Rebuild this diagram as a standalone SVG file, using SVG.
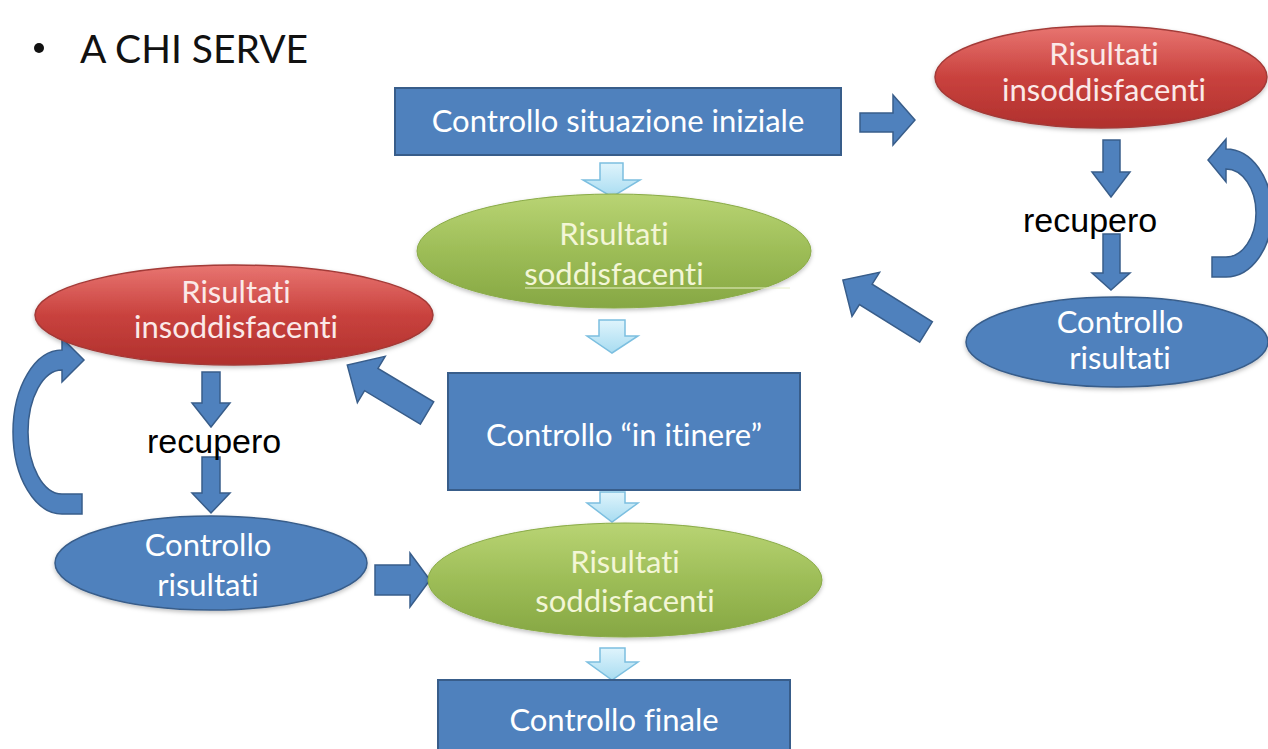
<svg xmlns="http://www.w3.org/2000/svg" width="1268" height="749" viewBox="0 0 1268 749">
<defs>
<linearGradient id="gGreen" x1="0" y1="0" x2="0" y2="1">
<stop offset="0" stop-color="#b9d474"/><stop offset="0.5" stop-color="#9dbd57"/><stop offset="1" stop-color="#86a743"/>
</linearGradient>
<linearGradient id="gRed" x1="0" y1="0" x2="0" y2="1">
<stop offset="0" stop-color="#e87571"/><stop offset="0.5" stop-color="#c9423e"/><stop offset="1" stop-color="#b0302d"/>
</linearGradient>
<linearGradient id="gLight" x1="0" y1="0" x2="0" y2="1">
<stop offset="0" stop-color="#dff4fc"/><stop offset="1" stop-color="#a8dcf1"/>
</linearGradient>
<filter id="sh" x="-10%" y="-10%" width="120%" height="130%">
<feDropShadow dx="0" dy="2" stdDeviation="2" flood-color="#000" flood-opacity="0.25"/>
</filter>
</defs>
<style>
.box{fill:#4f81bd;stroke:#385d8a;stroke-width:2}
.blueEll{fill:#4f81bd;stroke:#385d8a;stroke-width:1.5}
.greenEll{fill:url(#gGreen);stroke:#8aab48;stroke-width:1}
.redEll{fill:url(#gRed);stroke:#a33a37;stroke-width:1.5}
.arr{fill:#4f81bd;stroke:#385d8a;stroke-width:1.5;stroke-linejoin:miter}
.larr{fill:url(#gLight);stroke:#7cbfe0;stroke-width:1.5}
.t{font-family:Lato,"Liberation Sans",sans-serif;font-size:31px;text-anchor:middle;fill:#ffffff;font-variant-ligatures:none;font-feature-settings:"liga" 0}
.tg{fill:#f3f6d6}
.tr{fill:#fbe9e8}
.rec{font-family:"Liberation Sans",Arial,sans-serif;font-size:34px;fill:#000000}
.title{font-family:Lato,"Liberation Sans",sans-serif;font-size:39px;fill:#111111}
</style>
<rect width="1268" height="749" fill="#ffffff"/>

<g id="title">
<circle cx="39" cy="48" r="5" fill="#111"/>
<text class="title" x="80" y="63">A CHI SERVE</text>
</g>

<g id="connectors">
<path class="arr" d="M860 113 H893 V95 L915 120 L893 145 V132 H860 Z"/>
<path class="arr" d="M1103 140 H1120 V172 H1130 L1111 197 L1092 172 H1103 Z"/>
<path class="arr" d="M1103 234 H1120 V273 H1130 L1111 290 L1092 273 H1103 Z"/>
<path class="arr" d="M1212 257 L1226 257 A30 44 0 0 0 1256 213 A30 44 0 0 0 1226 169 L1226 182 L1208 160 L1226 139 L1226 149 A46 64 0 0 1 1272 213 A46 64 0 0 1 1226 277 L1212 277 Z"/>
<path class="arr" transform="translate(926 332) rotate(212)" d="M0 -12 H71 V-26 L98 0 L71 26 V12 H0 Z"/>
<path class="arr" transform="translate(427 413) rotate(211)" d="M0 -13 H65 V-27 L93 0 L65 27 V13 H0 Z"/>
<path class="arr" d="M202 372 H220 V403 H230 L211 427 L192 403 H202 Z"/>
<path class="arr" d="M202 457 H220 V493 H230 L211 513 L192 493 H202 Z"/>
<path class="arr" d="M82 494 L62 494 A34 62 0 0 1 28 432 A34 62 0 0 1 62 370 L62 382 L84 360 L62 338 L62 350 A49 82 0 0 0 13 432 A49 82 0 0 0 62 514 L82 514 Z"/>
<path class="arr" d="M375 565 H410 V553 L430 580 L410 607 V595 H375 Z"/>
<path class="larr" d="M600 163 H623 V180 H640 L612 197 L583 180 H600 Z"/>
<path class="larr" d="M599 320 H625 V336 H638 L612 353 L587 336 H599 Z"/>
<path class="larr" d="M600 492 H625 V503 H638 L612 522 L587 503 H600 Z"/>
<path class="larr" d="M600 648 H625 V662 H638 L612 680 L587 662 H600 Z"/>
</g>

<g id="node-iniziale">
<rect class="box" x="395" y="88" width="446" height="67"/>
<text class="t" x="618" y="132">Controllo situazione iniziale</text>
</g>

<g id="node-soddisfacenti-1">
<ellipse class="greenEll" filter="url(#sh)" cx="614" cy="251" rx="197" ry="57"/>
<line x1="525" y1="288" x2="790" y2="288" stroke="#e8f0c8" stroke-width="1"/>
<text class="t tg" x="614" y="245">Risultati</text>
<text class="t tg" x="614" y="285">soddisfacenti</text>
</g>

<g id="node-insoddisfacenti-right">
<ellipse class="redEll" filter="url(#sh)" cx="1101" cy="77" rx="166" ry="51"/>
<text class="t tr" x="1104" y="65">Risultati</text>
<text class="t tr" x="1104" y="101">insoddisfacenti</text>
</g>

<g id="node-controllo-right">
<ellipse class="blueEll" filter="url(#sh)" cx="1117" cy="342" rx="151" ry="45"/>
<text class="t" x="1120" y="333">Controllo</text>
<text class="t" x="1120" y="369">risultati</text>
</g>

<g id="node-insoddisfacenti-left">
<ellipse class="redEll" filter="url(#sh)" cx="234" cy="315" rx="199" ry="50"/>
<text class="t tr" x="236" y="303">Risultati</text>
<text class="t tr" x="236" y="338">insoddisfacenti</text>
</g>

<g id="node-controllo-left">
<ellipse class="blueEll" filter="url(#sh)" cx="211" cy="563" rx="156" ry="47"/>
<text class="t" x="208" y="556">Controllo</text>
<text class="t" x="208" y="596">risultati</text>
</g>

<g id="node-itinere">
<rect class="box" x="448" y="373" width="352" height="117"/>
<text class="t" x="624" y="446">Controllo “in itinere”</text>
</g>

<g id="node-soddisfacenti-2">
<ellipse class="greenEll" filter="url(#sh)" cx="625" cy="580" rx="197" ry="57"/>
<text class="t tg" x="625" y="573">Risultati</text>
<text class="t tg" x="625" y="612">soddisfacenti</text>
</g>

<g id="node-finale">
<rect class="box" x="438" y="680" width="352" height="80"/>
<text class="t" x="614" y="731">Controllo finale</text>
</g>

<g id="labels">
<text class="rec" x="1023" y="232">recupero</text>
<text class="rec" x="147" y="453">recupero</text>
</g>
</svg>
